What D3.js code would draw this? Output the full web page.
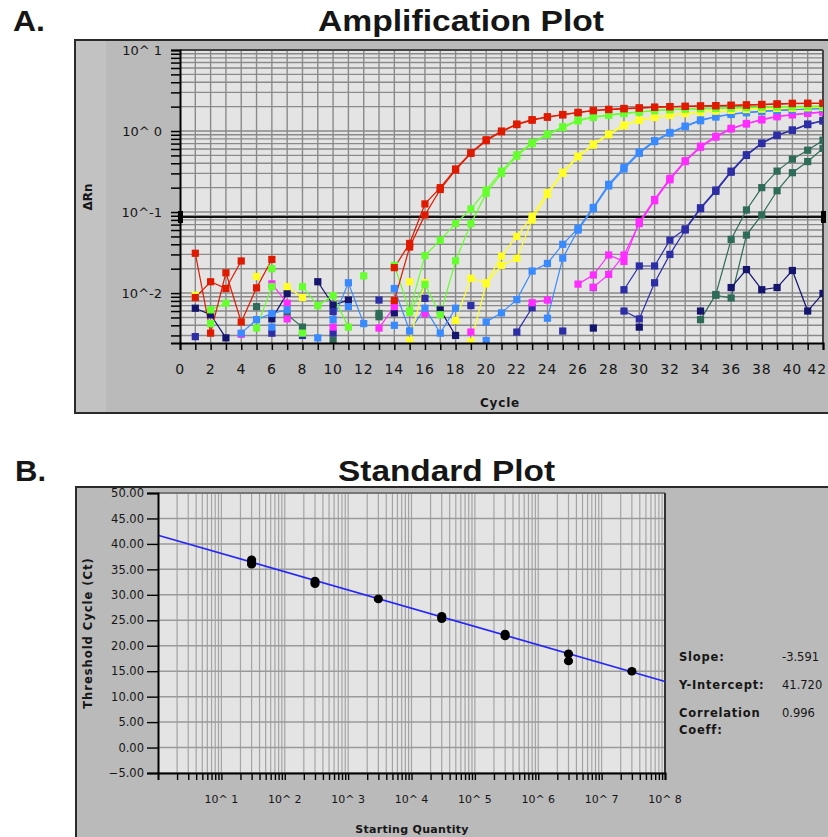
<!DOCTYPE html>
<html><head><meta charset="utf-8">
<script src="https://cdn.jsdelivr.net/npm/d3@7"></script>
<style>body{margin:0;background:#fff}svg{display:block}text{font-family:"DejaVu Sans",sans-serif;fill:#161616}</style>
</head><body>
<svg id="c" width="828" height="837"></svg>
<script>
const _ = null;
// ---------- Panel A : amplification plot (ΔRn per cycle, 42 cycles) ----------
const cycles = [1,2,3,4,5,6,7,8,9,10,11,12,13,14,15,16,17,18,19,20,21,22,23,24,25,26,27,28,29,30,31,32,33,34,35,36,37,38,39,40,41,42];
const cycleTicks = [0,2,4,6,8,10,12,14,16,18,20,22,24,26,28,30,32,34,36,38,40,42];
const rnTickLabels = [[10,"10^ 1"],[1,"10^ 0"],[0.1,"10^-1"],[0.01,"10^-2"]];
const threshold = 0.087;

const red1 = [0.031,0.0032,0.0178,0.0044,0.0116,0.026,_,_,_,_,
  _,_,_,0.0206,0.041,0.126,0.20,0.34,0.54,0.78,
  1.0,1.22,1.38,1.5,1.6,1.7,1.8,1.85,1.9,1.93,
  1.97,2.0,2.02,2.04,2.06,2.08,2.1,2.13,2.16,2.2,
  2.2,2.2];
const red2 = [0.0088,0.0138,0.0114,0.0249,_,_,_,_,_,_,
  _,_,_,0.0081,0.037,0.092,0.19,0.33,0.53,0.76,
  0.98,1.2,1.36,1.48,1.58,1.68,1.78,1.84,1.88,1.92,
  1.96,1.99,2.01,2.03,2.05,2.07,2.09,2.12,2.15,2.18,
  2.19,2.19];
const green1 = [_,0.0062,0.0075,_,_,0.020,_,0.012,0.0070,0.0093,
  0.0038,_,_,0.022,0.006,0.029,0.045,0.072,0.109,0.187,
  0.32,0.51,0.72,0.92,1.13,1.37,1.5,1.58,1.66,1.73,
  1.8,1.85,1.88,1.9,1.92,1.94,1.96,1.98,2.0,2.0,
  2.02,2.03];
const green2 = [_,0.0042,_,_,0.0037,0.012,_,0.0032,_,_,
  _,0.0163,_,_,0.0058,0.0128,0.0054,0.025,0.072,0.17,
  0.30,0.49,0.70,0.90,1.10,1.33,1.47,1.56,1.64,1.71,
  1.78,1.83,1.86,1.88,1.9,1.92,1.94,1.96,1.98,1.99,
  2.0,2.01];
const yellow1 = [0.0094,_,_,_,0.016,_,0.012,0.0088,_,_,
  _,_,_,_,0.0138,_,_,0.0046,0.0152,0.0134,
  0.0286,0.050,0.089,0.173,0.31,0.49,0.69,0.92,1.19,1.37,
  1.49,1.58,1.66,1.73,1.78,1.82,1.86,1.88,1.91,1.93,
  1.95,1.97];
const yellow2 = [_,_,_,_,_,_,_,_,_,_,
  _,_,_,_,0.0026,0.0135,_,_,0.0025,0.013,
  0.022,0.0268,0.080,0.165,0.30,0.48,0.67,0.90,1.16,1.35,
  1.47,1.56,1.64,1.71,1.76,1.8,1.84,1.87,1.9,1.92,
  1.94,1.96];
const blue1 = [_,_,_,0.0032,0.0047,0.0056,0.0062,_,_,0.0047,
  0.0134,0.0042,_,0.0114,0.0034,0.0065,0.0032,0.0065,_,0.0044,
  0.0057,0.0083,0.0187,0.0232,0.040,0.063,0.114,0.22,0.356,0.55,
  0.76,0.96,1.15,1.37,1.51,1.62,1.70,1.76,1.8,1.84,
  1.88,1.9];
const blue2 = [_,_,_,_,_,0.0038,_,_,0.0028,_,
  0.0068,_,_,0.004,_,_,_,_,_,0.0026,
  _,_,_,0.0049,0.027,0.060,0.11,0.21,0.34,0.53,
  0.74,0.94,1.13,1.34,1.49,1.6,1.68,1.74,1.79,1.83,
  1.87,1.89];
const magenta1 = [_,_,_,0.0031,_,0.013,0.0075,_,_,0.0038,
  _,_,0.0037,0.0068,_,0.0056,_,_,0.0033,_,
  _,_,0.0076,0.0082,_,0.0129,0.0167,0.0295,0.0246,0.076,
  0.143,0.26,0.43,0.65,0.86,1.08,1.24,1.39,1.52,1.6,
  1.66,1.72];
const magenta2 = [_,_,_,_,_,_,0.0048,_,_,_,
  _,_,_,_,_,_,_,_,_,_,
  _,_,_,_,_,_,0.0118,0.017,0.0295,0.072,
  0.138,0.25,0.42,0.63,0.84,1.06,1.22,1.37,1.5,1.58,
  1.65,1.70];
const darkblue1 = [0.0029,_,_,_,_,0.0032,_,0.003,_,0.0059,
  _,_,0.0082,_,_,0.0086,_,_,0.0070,_,
  _,0.0033,0.0066,_,0.0034,_,0.0117,_,0.011,0.0216,
  0.0216,0.045,0.062,0.113,0.187,0.32,0.51,0.71,0.89,1.03,
  1.22,1.35];
const darkblue2 = [_,_,_,_,_,_,_,_,_,0.0032,
  _,_,_,_,_,_,_,_,_,_,
  _,_,_,_,_,_,_,_,0.006,0.0048,
  0.0134,0.030,0.060,0.11,0.18,0.31,0.50,0.70,0.88,1.02,
  1.2,1.33];
const darkgreen1 = [_,_,_,_,0.0068,_,0.0054,0.0038,_,0.0026,
  _,_,0.0056,_,_,_,_,_,_,_,
  _,_,_,_,_,_,_,_,_,_,
  _,_,_,0.0047,0.0096,0.046,0.106,0.20,0.32,0.45,
  0.58,0.77];
const darkgreen2 = [_,_,_,_,_,_,_,_,_,_,
  _,_,0.0051,_,_,_,_,_,_,_,
  _,_,_,_,_,_,_,_,_,_,
  _,_,_,_,0.0094,0.0087,0.052,0.092,0.183,0.306,
  0.42,0.61];
const ntc = [0.0065,0.0054,0.0028,_,_,0.0048,0.0099,_,0.0138,0.0071,
  0.0082,_,_,0.0057,_,_,0.0062,0.003,_,_,
  _,_,_,_,_,_,0.0037,_,_,0.0038,
  _,_,_,0.006,_,0.0117,0.0195,0.011,0.0117,0.019,
  0.006,0.0099];

const ampSeries = [
  {v: darkgreen2, c: "#2f6b59"}, {v: darkgreen1, c: "#2f6b59"},
  {v: ntc, c: "#15156e"},
  {v: darkblue2, c: "#2d2da6"}, {v: darkblue1, c: "#2d2da6"},
  {v: magenta2, c: "#ff2cff"}, {v: magenta1, c: "#ff2cff"},
  {v: blue2, c: "#3a8aff"}, {v: blue1, c: "#3a8aff"},
  {v: yellow2, c: "#ffff26"}, {v: yellow1, c: "#ffff26"},
  {v: green2, c: "#66ff2e"}, {v: green1, c: "#66ff2e"},
  {v: red2, c: "#e01a00"}, {v: red1, c: "#e01a00"}
];

// ---------- Panel B : standard curve ----------
const stdQty = [30,30,30,300,300,3000,30000,30000,300000,300000,3000000,3000000,30000000];
const stdCt  = [36.9,36.5,36.0,32.7,32.2,29.2,25.8,25.3,22.3,21.9,18.4,17.0,15.0];
const fitSlope = -3.591, fitIntercept = 41.720;
const ctTicks = [-5,0,5,10,15,20,25,30,35,40,45,50];
const qtyLabels = [[1e1,"10^ 1"],[1e2,"10^ 2"],[1e3,"10^ 3"],[1e4,"10^ 4"],[1e5,"10^ 5"],[1e6,"10^ 6"],[1e7,"10^ 7"],[1e8,"10^ 8"]];
const stats = [["Slope:","-3.591"],["Y-Intercept:","41.720"],["Correlation","0.996"],["Coeff:",""]];

const svg = d3.select("#c");

// ===== Titles =====
svg.append("text").attr("x",13).attr("y",31).attr("textLength",32).attr("lengthAdjust","spacingAndGlyphs")
  .style("font-family","'Liberation Sans',Arial,sans-serif").style("font-weight","bold").style("font-size","29px").text("A.");
svg.append("text").attr("x",318).attr("y",31).attr("textLength",286).attr("lengthAdjust","spacingAndGlyphs")
  .style("font-family","'Liberation Sans',Arial,sans-serif").style("font-weight","bold").style("font-size","29px").text("Amplification Plot");
svg.append("text").attr("x",15).attr("y",481).attr("textLength",31).attr("lengthAdjust","spacingAndGlyphs")
  .style("font-family","'Liberation Sans',Arial,sans-serif").style("font-weight","bold").style("font-size","29px").text("B.");
svg.append("text").attr("x",338).attr("y",481).attr("textLength",217).attr("lengthAdjust","spacingAndGlyphs")
  .style("font-family","'Liberation Sans',Arial,sans-serif").style("font-weight","bold").style("font-size","29px").text("Standard Plot");

// ===== Panel A =====
const A = {l:180, r:823, t:50, b:343};
svg.append("rect").attr("x",75).attr("y",40).attr("width",800).attr("height",373)
  .attr("fill","#bababa").attr("stroke","#2a2a2a").attr("stroke-width",2);
svg.append("rect").attr("x",76).attr("y",41).attr("width",30).attr("height",371).attr("fill","#c2c2c2");
svg.append("rect").attr("x",A.l).attr("y",A.t).attr("width",A.r-A.l).attr("height",A.b-A.t).attr("fill","#e4e4e4");

const xA = d3.scaleLinear().domain([0,42]).range([A.l,A.r]);
const yA = d3.scaleLog().domain([0.00242,10]).range([A.b,A.t]);

const gA = svg.append("g");
gA.selectAll(".vg").data(d3.range(1,42)).join("line")
  .attr("x1",d=>xA(d)).attr("x2",d=>xA(d)).attr("y1",A.t).attr("y2",A.b)
  .attr("stroke","#8a8a8a").attr("stroke-width",1.4);
const yTicksA = yA.ticks();
gA.selectAll(".hg").data(yTicksA).join("line")
  .attr("x1",A.l).attr("x2",A.r).attr("y1",d=>yA(d)).attr("y2",d=>yA(d))
  .attr("stroke","#8a8a8a").attr("stroke-width",1.4);
gA.append("line").attr("x1",A.l).attr("x2",A.r).attr("y1",A.t).attr("y2",A.t).attr("stroke","#444").attr("stroke-width",2);
gA.append("line").attr("x1",A.r).attr("x2",A.r).attr("y1",A.t).attr("y2",A.b).attr("stroke","#444").attr("stroke-width",2);

// threshold
gA.append("line").attr("x1",A.l).attr("x2",A.r).attr("y1",yA(threshold)).attr("y2",yA(threshold))
  .attr("stroke","#111").attr("stroke-width",2);
[A.l, A.r].forEach(x=>gA.append("rect").attr("x",x-2).attr("y",yA(threshold)-6).attr("width",5).attr("height",12).attr("fill","#000"));

// series
svg.append("clipPath").attr("id","clipA").append("rect").attr("x",A.l).attr("y",A.t).attr("width",A.r-A.l).attr("height",A.b-A.t);
const gS = svg.append("g").attr("clip-path","url(#clipA)");
const lineA = d3.line().defined(d=>d.v!=null).x(d=>xA(d.c)).y(d=>yA(d.v));
ampSeries.forEach(s=>{
  const pts = cycles.map((c,i)=>({c, v:s.v[i]}));
  gS.append("path").datum(pts).attr("d",lineA).attr("fill","none").attr("stroke",s.c).attr("stroke-width",1.2);
});
ampSeries.forEach(s=>{
  const pts = cycles.map((c,i)=>({c, v:s.v[i]})).filter(d=>d.v!=null);
  gS.selectAll(null).data(pts).join("rect")
    .attr("x",d=>xA(d.c)-3.6).attr("y",d=>yA(d.v)-3.6).attr("width",7.2).attr("height",7.2).attr("fill",s.c);
});

// axes A
const axA = svg.append("g").attr("transform",`translate(0,${A.b})`)
  .call(d3.axisBottom(xA).tickValues(cycles.concat([0])).tickSize(7).tickFormat(""));
axA.select(".domain").attr("stroke","#000").attr("stroke-width",2);
axA.selectAll(".tick line").attr("stroke","#000").attr("stroke-width",1.5);
svg.append("g").selectAll("text").data(cycleTicks).join("text")
  .attr("x",d=>d===42 ? 827 : xA(d)).attr("y",374).attr("text-anchor",d=>d===42 ? "end" : "middle")
  .style("font-size","14px").style("letter-spacing","0.8px").text(d=>d);

const ayA = svg.append("g").attr("transform",`translate(${A.l},0)`)
  .call(d3.axisLeft(yA).tickValues(yTicksA).tickSize(9).tickFormat(""));
ayA.select(".domain").attr("stroke","#000").attr("stroke-width",2);
ayA.selectAll(".tick line").attr("stroke","#000").attr("stroke-width",1.5);
svg.append("g").selectAll("text").data(rnTickLabels).join("text")
  .attr("x",162).attr("y",d=>yA(d[0])).attr("dy","0.36em").attr("text-anchor","end")
  .style("font-size","13px").text(d=>d[1]);

svg.append("text").attr("transform","translate(92,197) rotate(-90)").attr("text-anchor","middle")
  .style("font-size","12px").style("font-weight","bold").text("ΔRn");
svg.append("text").attr("x",500).attr("y",407).attr("text-anchor","middle")
  .style("font-size","12px").style("font-weight","bold").style("letter-spacing","0.8px").text("Cycle");

// ===== Panel B =====
const B = {l:158, r:665, t:493, b:773};
svg.append("rect").attr("x",76).attr("y",487).attr("width",800).attr("height",400)
  .attr("fill","#bababa").attr("stroke","#2a2a2a").attr("stroke-width",2);
svg.append("rect").attr("x",B.l).attr("y",B.t).attr("width",B.r-B.l).attr("height",B.b-B.t).attr("fill","#e4e4e4");

const xB = d3.scaleLog().domain([1,1e8]).range([B.l,B.r]);
const yB = d3.scaleLinear().domain([-5,50]).range([B.b,B.t]);
const xTicksB = xB.ticks().filter(d=>d>1 && d<1e8);
const gB = svg.append("g");
gB.selectAll(".vg").data(xTicksB).join("line")
  .attr("x1",d=>xB(d)).attr("x2",d=>xB(d)).attr("y1",B.t).attr("y2",B.b)
  .attr("stroke","#a4a4a4").attr("stroke-width",1.2);
gB.selectAll(".hg").data(ctTicks).join("line")
  .attr("x1",B.l).attr("x2",B.r).attr("y1",d=>yB(d)).attr("y2",d=>yB(d))
  .attr("stroke","#9a9a9a").attr("stroke-width",1.5);
gB.append("line").attr("x1",B.l).attr("x2",B.r).attr("y1",B.t).attr("y2",B.t).attr("stroke","#666").attr("stroke-width",1.5);
gB.append("line").attr("x1",B.r).attr("x2",B.r).attr("y1",B.t).attr("y2",B.b).attr("stroke","#333").attr("stroke-width",2);

// fit line
const fitQ = [1,1e8];
gB.append("line")
  .attr("x1",xB(fitQ[0])).attr("y1",yB(fitIntercept+fitSlope*Math.log10(fitQ[0])))
  .attr("x2",xB(fitQ[1])).attr("y2",yB(fitIntercept+fitSlope*Math.log10(fitQ[1])))
  .attr("stroke","#2424ff").attr("stroke-width",1.6);
gB.selectAll(".pt").data(stdQty.map((q,i)=>({q, ct:stdCt[i]}))).join("ellipse")
  .attr("cx",d=>xB(d.q)).attr("cy",d=>yB(d.ct)).attr("rx",4.6).attr("ry",4.3).attr("fill","#000");

// axes B
const axB = svg.append("g").attr("transform",`translate(0,${B.b})`)
  .call(d3.axisBottom(xB).tickValues(xTicksB.concat([1e8])).tickSize(7).tickFormat(""));
axB.select(".domain").attr("stroke","#000").attr("stroke-width",2);
axB.selectAll(".tick line").attr("stroke","#000").attr("stroke-width",1.4);
svg.append("g").selectAll("text").data(qtyLabels).join("text")
  .attr("x",d=>xB(d[0])).attr("y",803).attr("text-anchor","middle").style("font-size","11px").text(d=>d[1]);

const ayB = svg.append("g").attr("transform",`translate(${B.l},0)`)
  .call(d3.axisLeft(yB).tickValues(ctTicks).tickSize(11).tickFormat(""));
ayB.select(".domain").attr("stroke","#000").attr("stroke-width",2);
ayB.selectAll(".tick line").attr("stroke","#000").attr("stroke-width",1.4);
svg.append("g").selectAll("text").data(ctTicks).join("text")
  .attr("x",144).attr("y",d=>yB(d)).attr("dy","0.36em").attr("text-anchor","end")
  .style("font-size","11.5px").text(d=>d3.format(".2f")(d));
svg.append("line").attr("x1",75).attr("x2",828).attr("y1",487).attr("y2",487).attr("stroke","#2a2a2a").attr("stroke-width",2);

svg.append("text").attr("transform","translate(92,633) rotate(-90)").attr("text-anchor","middle")
  .style("font-size","11.5px").style("font-weight","bold").style("letter-spacing","1px").text("Threshold Cycle (Ct)");
svg.append("text").attr("x",412).attr("y",833).attr("text-anchor","middle")
  .style("font-size","11px").style("font-weight","bold").style("letter-spacing","0.3px").text("Starting Quantity");

const statY = [661,689,717,734];
stats.forEach((s,i)=>{
  svg.append("text").attr("x",679).attr("y",statY[i]).style("font-size","11.5px").style("font-weight","bold")
    .style("letter-spacing","0.8px").text(s[0]);
  if (s[1]) svg.append("text").attr("x",782).attr("y",statY[i]).style("font-size","11.5px").text(s[1]);
});
</script>
</body></html>
